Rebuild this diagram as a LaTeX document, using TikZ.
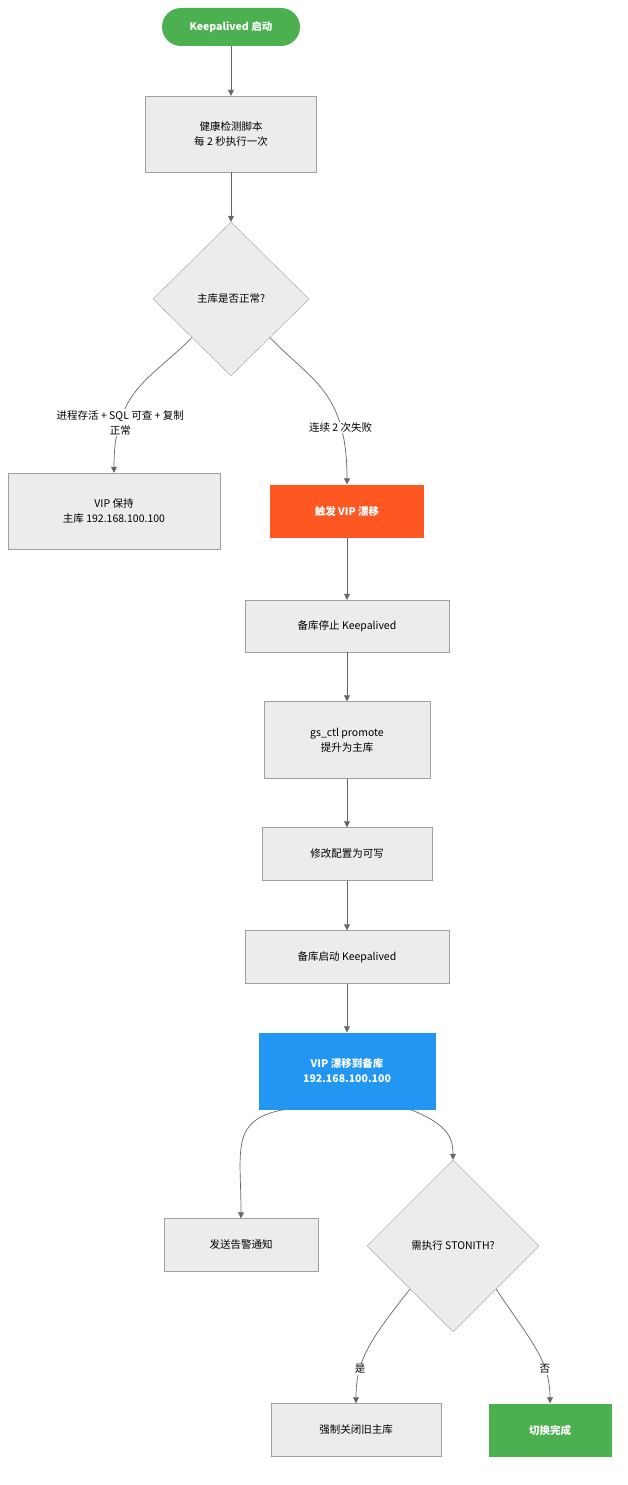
\documentclass[tikz,border=0pt]{standalone}
\usepackage{fontspec}
\setmainfont{Noto Sans CJK SC}
\usetikzlibrary{shapes.geometric,arrows.meta}
\definecolor{nfill}{HTML}{ECECEC}
\definecolor{nline}{HTML}{A0A0A0}
\definecolor{eline}{HTML}{666666}
\definecolor{gr}{HTML}{4CAF50}
\definecolor{og}{HTML}{FF5722}
\definecolor{bl}{HTML}{2196F3}
\begin{document}
\begin{tikzpicture}[x=1pt,y=-1pt,
 every node/.style={font=\fontsize{10.5}{15}\selectfont},
 box/.style={draw=nline,fill=nfill,rectangle,align=center,inner sep=0pt},
 dia/.style={draw=nline,fill=nfill,diamond,align=center,inner sep=0pt},
 col/.style={rectangle,align=center,inner sep=0pt,text=white,font=\fontsize{10.5}{15}\selectfont\bfseries},
 e/.style={draw=eline,line width=0.7pt,-{Triangle[length=6pt,width=6pt]}},
 lab/.style={fill=white,inner sep=1pt,align=center}]
\useasboundingbox (0,0) rectangle (628,1485);
\node[col,fill=gr,rounded corners=19pt,minimum width=138,minimum height=38] (s) at (231,27) {Keepalived 启动};
\node[box,minimum width=171,minimum height=76] (h) at (231,134) {健康检测脚本\\每 2 秒执行一次};
\node[dia,minimum width=156,minimum height=154] (d1) at (231,299) {主库是否正常?};
\node[box,minimum width=212,minimum height=76] (k) at (114,511) {VIP 保持\\主库 192.168.100.100};
\node[col,fill=og,minimum width=154,minimum height=53] (t) at (347,511) {触发 VIP 漂移};
\node[box,minimum width=204,minimum height=52] (b1) at (347,626) {备库停止 Keepalived};
\node[box,minimum width=166,minimum height=77] (g) at (347,740) {gs\_ctl promote\\提升为主库};
\node[box,minimum width=170,minimum height=53] (m) at (347,854) {修改配置为可写};
\node[box,minimum width=204,minimum height=53] (b2) at (347,957) {备库启动 Keepalived};
\node[col,fill=bl,minimum width=177,minimum height=77] (v) at (347,1071) {VIP 漂移到备库\\192.168.100.100};
\node[box,minimum width=154,minimum height=53] (a) at (241,1245) {发送告警通知};
\node[dia,minimum width=172,minimum height=172] (d2) at (453,1246) {需执行 STONITH?};
\node[box,minimum width=170,minimum height=53] (f) at (356,1430) {强制关闭旧主库};
\node[col,fill=gr,minimum width=123,minimum height=53] (dn) at (550,1430) {切换完成};
\draw[e] (s) -- (h);
\draw[e] (h) -- (d1);
\draw[e] (d1.south west) .. controls (150,380) and (114,390) .. node[lab,pos=0.75] {进程存活 + SQL 可查 + 复制\\正常} (k.north);
\draw[e] (d1.south east) .. controls (310,380) and (347,390) .. node[lab,pos=0.75] {连续 2 次失败} (t.north);
\draw[e] (t) -- (b1);
\draw[e] (b1) -- (g);
\draw[e] (g) -- (m);
\draw[e] (m) -- (b2);
\draw[e] (b2) -- (v);
\draw[e] (v.south west) ++(25,0) .. controls (230,1120) and (241,1150) .. (a.north);
\draw[e] (v.south east) ++(-25,0) .. controls (450,1125) and (453,1140) .. (d2.north);
\draw[e] (d2.south west) .. controls (370,1340) and (356,1360) .. node[lab,pos=0.7] {是} (f.north);
\draw[e] (d2.south east) .. controls (530,1340) and (550,1360) .. node[lab,pos=0.7] {否} (dn.north);
\end{tikzpicture}
\end{document}
